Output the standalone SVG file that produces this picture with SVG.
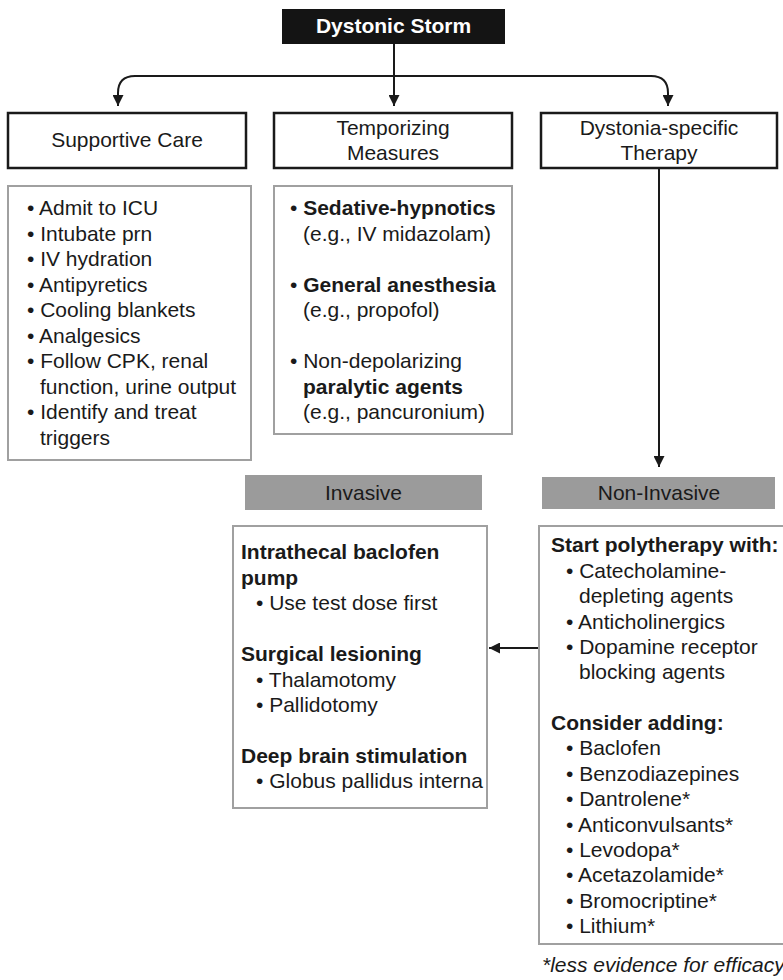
<svg xmlns="http://www.w3.org/2000/svg" width="783" height="980" viewBox="0 0 783 980">
<style>
.t{font-family:"Liberation Sans",Arial,Helvetica,sans-serif;font-size:21px;fill:#1a1a1a}
.b{font-weight:bold}
.c{text-anchor:middle}
.hd{fill:#fff;stroke:#1a1a1a;stroke-width:2.5}
.lst{fill:#fff;stroke:#a0a0a0;stroke-width:2}
.gh{fill:#9b9b9b}
.ln{fill:none;stroke:#1a1a1a;stroke-width:2}
</style>
<defs>
<marker id="ah" viewBox="0 0 10 10" refX="10" refY="5" markerWidth="11" markerHeight="11" markerUnits="userSpaceOnUse" orient="auto">
<path d="M0,0 L10,5 L0,10 z" fill="#1a1a1a"/>
</marker>
</defs>
<rect width="783" height="980" fill="#fff"/>

<g id="connectors">
<path class="ln" d="M394,44 V106" marker-end="url(#ah)"/>
<path class="ln" d="M394,76 H135 Q118,76 118,93 V106" marker-end="url(#ah)"/>
<path class="ln" d="M394,76 H651 Q668,76 668,93 V106" marker-end="url(#ah)"/>
<path class="ln" d="M659,168 V467" marker-end="url(#ah)"/>
<path class="ln" d="M539,648 H489" marker-end="url(#ah)"/>
</g>

<g id="dystonic-storm">
<rect x="282" y="9" width="223" height="35" fill="#141414"/>
<text class="t b c" x="393.5" y="33" style="fill:#fff">Dystonic Storm</text>
</g>

<g id="supportive-care">
<rect class="hd" x="8" y="113" width="238" height="55"/>
<text class="t c" x="127" y="147">Supportive Care</text>
</g>

<g id="temporizing-measures">
<rect class="hd" x="274" y="113" width="238" height="55"/>
<text class="t c" x="393" y="135">Temporizing</text>
<text class="t c" x="393" y="160">Measures</text>
</g>

<g id="dystonia-specific-therapy">
<rect class="hd" x="541" y="113" width="236" height="55"/>
<text class="t c" x="659" y="135">Dystonia-specific</text>
<text class="t c" x="659" y="160">Therapy</text>
</g>

<g id="supportive-list">
<rect class="lst" x="8" y="186" width="243" height="274"/>
<text class="t" x="27" y="215">• Admit to ICU</text>
<text class="t" x="27" y="240.5">• Intubate prn</text>
<text class="t" x="27" y="266">• IV hydration</text>
<text class="t" x="27" y="291.5">• Antipyretics</text>
<text class="t" x="27" y="317">• Cooling blankets</text>
<text class="t" x="27" y="342.5">• Analgesics</text>
<text class="t" x="27" y="368">• Follow CPK, renal</text>
<text class="t" x="40" y="393.5">function, urine output</text>
<text class="t" x="27" y="419">• Identify and treat</text>
<text class="t" x="40" y="444.5">triggers</text>
</g>

<g id="temporizing-list">
<rect class="lst" x="274" y="186" width="238" height="248"/>
<text class="t" x="290" y="215">• <tspan class="b">Sedative-hypnotics</tspan></text>
<text class="t" x="303" y="240.5">(e.g., IV midazolam)</text>
<text class="t" x="290" y="291.5">• <tspan class="b">General anesthesia</tspan></text>
<text class="t" x="303" y="317">(e.g., propofol)</text>
<text class="t" x="290" y="368">• Non-depolarizing</text>
<text class="t b" x="303" y="393.5">paralytic agents</text>
<text class="t" x="303" y="419">(e.g., pancuronium)</text>
</g>

<g id="invasive-header">
<rect class="gh" x="245" y="475" width="237" height="35"/>
<text class="t c" x="363.5" y="500">Invasive</text>
</g>

<g id="non-invasive-header">
<rect class="gh" x="542" y="477" width="233" height="32"/>
<text class="t c" x="659" y="500">Non-Invasive</text>
</g>

<g id="invasive-list">
<rect class="lst" x="233" y="526" width="254" height="282"/>
<text class="t b" x="241" y="559">Intrathecal baclofen</text>
<text class="t b" x="241" y="584.5">pump</text>
<text class="t" x="256" y="610">• Use test dose first</text>
<text class="t b" x="241" y="661">Surgical lesioning</text>
<text class="t" x="256" y="686.5">• Thalamotomy</text>
<text class="t" x="256" y="712">• Pallidotomy</text>
<text class="t b" x="241" y="762.5">Deep brain stimulation</text>
<text class="t" x="256" y="788" textLength="227" lengthAdjust="spacingAndGlyphs">• Globus pallidus interna</text>
</g>

<g id="non-invasive-list">
<rect class="lst" x="539" y="526" width="261" height="418"/>
<text class="t b" x="551" y="552">Start polytherapy with:</text>
<text class="t" x="566" y="578">• Catecholamine-</text>
<text class="t" x="579" y="603">depleting agents</text>
<text class="t" x="566" y="628.5">• Anticholinergics</text>
<text class="t" x="566" y="654">• Dopamine receptor</text>
<text class="t" x="579" y="679">blocking agents</text>
<text class="t b" x="551" y="730">Consider adding:</text>
<text class="t" x="566" y="755">• Baclofen</text>
<text class="t" x="566" y="780.5">• Benzodiazepines</text>
<text class="t" x="566" y="806">• Dantrolene*</text>
<text class="t" x="566" y="831.5">• Anticonvulsants*</text>
<text class="t" x="566" y="857">• Levodopa*</text>
<text class="t" x="566" y="882">• Acetazolamide*</text>
<text class="t" x="566" y="907.5">• Bromocriptine*</text>
<text class="t" x="566" y="933">• Lithium*</text>
</g>

<g id="footnote">
<text class="t" x="542" y="972" style="font-style:italic">*less evidence for efficacy</text>
</g>
</svg>
